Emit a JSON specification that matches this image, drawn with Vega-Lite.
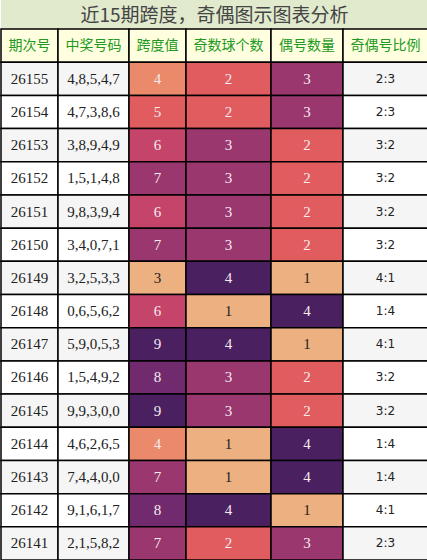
{
  "$schema": "https://vega.github.io/schema/vega-lite/v6.json",
  "padding": 0,
  "background": "white",
  "spacing": 0,
  "bounds": "flush",
  "config": {
    "view": {"stroke": null},
    "concat": {"spacing": 0},
    "scale": {"bandPaddingInner": 0, "bandPaddingOuter": 0, "rectBandPaddingInner": 0},
    "rect": {"stroke": "black", "strokeWidth": 1.5},
    "text": {"font": "Liberation Serif", "fontSize": 15}
  },
  "datasets": {
    "draws": [
      {"issue": "26155", "nums": "4,8,5,4,7", "span": 4, "odd": 2, "even": 3, "ratio": "2:3"},
      {"issue": "26154", "nums": "4,7,3,8,6", "span": 5, "odd": 2, "even": 3, "ratio": "2:3"},
      {"issue": "26153", "nums": "3,8,9,4,9", "span": 6, "odd": 3, "even": 2, "ratio": "3:2"},
      {"issue": "26152", "nums": "1,5,1,4,8", "span": 7, "odd": 3, "even": 2, "ratio": "3:2"},
      {"issue": "26151", "nums": "9,8,3,9,4", "span": 6, "odd": 3, "even": 2, "ratio": "3:2"},
      {"issue": "26150", "nums": "3,4,0,7,1", "span": 7, "odd": 3, "even": 2, "ratio": "3:2"},
      {"issue": "26149", "nums": "3,2,5,3,3", "span": 3, "odd": 4, "even": 1, "ratio": "4:1"},
      {"issue": "26148", "nums": "0,6,5,6,2", "span": 6, "odd": 1, "even": 4, "ratio": "1:4"},
      {"issue": "26147", "nums": "5,9,0,5,3", "span": 9, "odd": 4, "even": 1, "ratio": "4:1"},
      {"issue": "26146", "nums": "1,5,4,9,2", "span": 8, "odd": 3, "even": 2, "ratio": "3:2"},
      {"issue": "26145", "nums": "9,9,3,0,0", "span": 9, "odd": 3, "even": 2, "ratio": "3:2"},
      {"issue": "26144", "nums": "4,6,2,6,5", "span": 4, "odd": 1, "even": 4, "ratio": "1:4"},
      {"issue": "26143", "nums": "7,4,4,0,0", "span": 7, "odd": 1, "even": 4, "ratio": "1:4"},
      {"issue": "26142", "nums": "9,1,6,1,7", "span": 8, "odd": 4, "even": 1, "ratio": "4:1"},
      {"issue": "26141", "nums": "2,1,5,8,2", "span": 7, "odd": 2, "even": 3, "ratio": "2:3"}
    ]
  },
  "vconcat": [
    {
      "width": 427,
      "height": 29,
      "data": {"values": [{"t": "近15期跨度，奇偶图示图表分析"}]},
      "layer": [
        {"mark": {"type": "rect", "fill": "#e1eacd", "stroke": null}, "encoding": {}},
        {
          "mark": {"type": "text", "font": "Noto Sans CJK SC", "fontSize": 19, "color": "#444444", "dy": 1},
          "encoding": {"text": {"field": "t"}}
        }
      ]
    },
    {
      "spacing": 0,
      "bounds": "flush",
      "resolve": {"scale": {"fill": "independent", "color": "independent"}},
      "hconcat": [
        {
          "width": 57,
          "height": 531,
          "layer": [
            {
              "data": {"values": [{"issue": "header", "label": "期次号"}]},
              "mark": {"type": "rect", "fill": "#ffffdf"},
              "encoding": {"y": {"field": "issue", "type": "nominal", "sort": "descending", "axis": null}}
            },
            {
              "data": {"values": [{"issue": "header", "label": "期次号"}]},
              "mark": {"type": "text", "font": "Noto Sans CJK SC", "fontSize": 14, "color": "#229922"},
              "encoding": {"y": {"field": "issue", "type": "nominal", "sort": "descending", "axis": null}, "text": {"field": "label"}}
            },
            {
              "data": {"name": "draws"},
              "mark": {"type": "rect"},
              "encoding": {
                "y": {"field": "issue", "type": "nominal", "sort": "descending", "axis": null},
                "fill": {"field": "issue", "type": "nominal", "sort": "descending", "scale": {"range": ["#f5f5f5", "#ffffff"]}, "legend": null}
              }
            },
            {
              "data": {"name": "draws"},
              "mark": {"type": "text", "color": "#222222"},
              "encoding": {"y": {"field": "issue", "type": "nominal", "sort": "descending", "axis": null}, "text": {"field": "issue"}}
            }
          ]
        },
        {
          "width": 71,
          "height": 531,
          "layer": [
            {
              "data": {"values": [{"issue": "header", "label": "中奖号码"}]},
              "mark": {"type": "rect", "fill": "#ffffdf"},
              "encoding": {"y": {"field": "issue", "type": "nominal", "sort": "descending", "axis": null}}
            },
            {
              "data": {"values": [{"issue": "header", "label": "中奖号码"}]},
              "mark": {"type": "text", "font": "Noto Sans CJK SC", "fontSize": 14, "color": "#229922"},
              "encoding": {"y": {"field": "issue", "type": "nominal", "sort": "descending", "axis": null}, "text": {"field": "label"}}
            },
            {
              "data": {"name": "draws"},
              "mark": {"type": "rect"},
              "encoding": {
                "y": {"field": "issue", "type": "nominal", "sort": "descending", "axis": null},
                "fill": {"field": "issue", "type": "nominal", "sort": "descending", "scale": {"range": ["#f5f5f5", "#ffffff"]}, "legend": null}
              }
            },
            {
              "data": {"name": "draws"},
              "mark": {"type": "text", "color": "#222222"},
              "encoding": {"y": {"field": "issue", "type": "nominal", "sort": "descending", "axis": null}, "text": {"field": "nums"}}
            }
          ]
        },
        {
          "width": 57,
          "height": 531,
          "layer": [
            {
              "data": {"values": [{"issue": "header", "label": "跨度值"}]},
              "mark": {"type": "rect", "fill": "#ffffdf"},
              "encoding": {"y": {"field": "issue", "type": "nominal", "sort": "descending", "axis": null}}
            },
            {
              "data": {"values": [{"issue": "header", "label": "跨度值"}]},
              "mark": {"type": "text", "font": "Noto Sans CJK SC", "fontSize": 14, "color": "#229922"},
              "encoding": {"y": {"field": "issue", "type": "nominal", "sort": "descending", "axis": null}, "text": {"field": "label"}}
            },
            {
              "data": {"name": "draws"},
              "mark": {"type": "rect"},
              "encoding": {
                "y": {"field": "issue", "type": "nominal", "sort": "descending", "axis": null},
                "fill": {"field": "span", "type": "ordinal", "scale": {"domain": [3, 4, 5, 6, 7, 8, 9], "range": ["#edb081", "#ea8a6a", "#e05c5e", "#c4446a", "#9a376e", "#722a6e", "#4a2060"]}, "legend": null}
              }
            },
            {
              "data": {"name": "draws"},
              "mark": {"type": "text"},
              "encoding": {
                "y": {"field": "issue", "type": "nominal", "sort": "descending", "axis": null},
                "text": {"field": "span"},
                "color": {"condition": {"test": "datum.span <= 3", "value": "#222222"}, "value": "#f6eaee"}
              }
            }
          ]
        },
        {
          "width": 85,
          "height": 531,
          "layer": [
            {
              "data": {"values": [{"issue": "header", "label": "奇数球个数"}]},
              "mark": {"type": "rect", "fill": "#ffffdf"},
              "encoding": {"y": {"field": "issue", "type": "nominal", "sort": "descending", "axis": null}}
            },
            {
              "data": {"values": [{"issue": "header", "label": "奇数球个数"}]},
              "mark": {"type": "text", "font": "Noto Sans CJK SC", "fontSize": 14, "color": "#229922"},
              "encoding": {"y": {"field": "issue", "type": "nominal", "sort": "descending", "axis": null}, "text": {"field": "label"}}
            },
            {
              "data": {"name": "draws"},
              "mark": {"type": "rect"},
              "encoding": {
                "y": {"field": "issue", "type": "nominal", "sort": "descending", "axis": null},
                "fill": {"field": "odd", "type": "ordinal", "scale": {"domain": [1, 2, 3, 4], "range": ["#edb081", "#e05c5e", "#9a376e", "#4a2060"]}, "legend": null}
              }
            },
            {
              "data": {"name": "draws"},
              "mark": {"type": "text"},
              "encoding": {
                "y": {"field": "issue", "type": "nominal", "sort": "descending", "axis": null},
                "text": {"field": "odd"},
                "color": {"condition": {"test": "datum.odd <= 1", "value": "#222222"}, "value": "#f6eaee"}
              }
            }
          ]
        },
        {
          "width": 72,
          "height": 531,
          "layer": [
            {
              "data": {"values": [{"issue": "header", "label": "偶号数量"}]},
              "mark": {"type": "rect", "fill": "#ffffdf"},
              "encoding": {"y": {"field": "issue", "type": "nominal", "sort": "descending", "axis": null}}
            },
            {
              "data": {"values": [{"issue": "header", "label": "偶号数量"}]},
              "mark": {"type": "text", "font": "Noto Sans CJK SC", "fontSize": 14, "color": "#229922"},
              "encoding": {"y": {"field": "issue", "type": "nominal", "sort": "descending", "axis": null}, "text": {"field": "label"}}
            },
            {
              "data": {"name": "draws"},
              "mark": {"type": "rect"},
              "encoding": {
                "y": {"field": "issue", "type": "nominal", "sort": "descending", "axis": null},
                "fill": {"field": "even", "type": "ordinal", "scale": {"domain": [1, 2, 3, 4], "range": ["#edb081", "#e05c5e", "#9a376e", "#4a2060"]}, "legend": null}
              }
            },
            {
              "data": {"name": "draws"},
              "mark": {"type": "text"},
              "encoding": {
                "y": {"field": "issue", "type": "nominal", "sort": "descending", "axis": null},
                "text": {"field": "even"},
                "color": {"condition": {"test": "datum.even <= 1", "value": "#222222"}, "value": "#f6eaee"}
              }
            }
          ]
        },
        {
          "width": 85,
          "height": 531,
          "layer": [
            {
              "data": {"values": [{"issue": "header", "label": "奇偶号比例"}]},
              "mark": {"type": "rect", "fill": "#ffffdf"},
              "encoding": {"y": {"field": "issue", "type": "nominal", "sort": "descending", "axis": null}}
            },
            {
              "data": {"values": [{"issue": "header", "label": "奇偶号比例"}]},
              "mark": {"type": "text", "font": "Noto Sans CJK SC", "fontSize": 14, "color": "#229922"},
              "encoding": {"y": {"field": "issue", "type": "nominal", "sort": "descending", "axis": null}, "text": {"field": "label"}}
            },
            {
              "data": {"name": "draws"},
              "mark": {"type": "rect"},
              "encoding": {
                "y": {"field": "issue", "type": "nominal", "sort": "descending", "axis": null},
                "fill": {"field": "issue", "type": "nominal", "sort": "descending", "scale": {"range": ["#f5f5f5", "#ffffff"]}, "legend": null}
              }
            },
            {
              "data": {"name": "draws"},
              "mark": {"type": "text", "font": "DejaVu Sans", "fontSize": 12, "color": "#222222"},
              "encoding": {"y": {"field": "issue", "type": "nominal", "sort": "descending", "axis": null}, "text": {"field": "ratio"}}
            }
          ]
        }
      ]
    }
  ]
}
